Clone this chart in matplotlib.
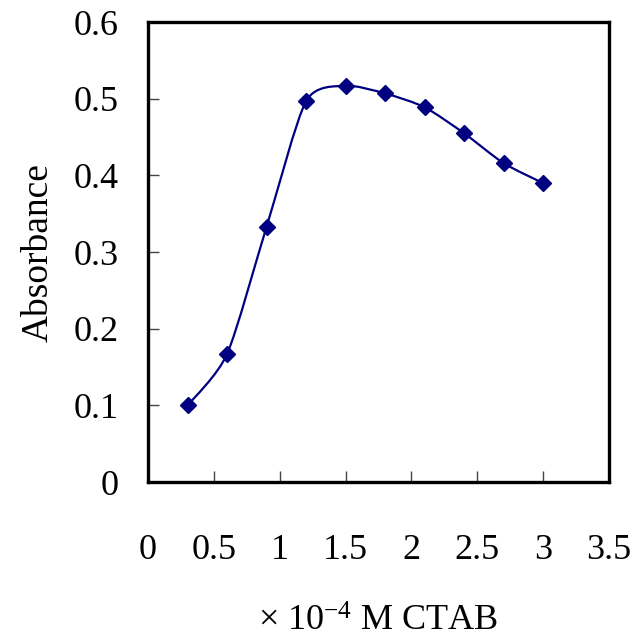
import matplotlib
matplotlib.use('Agg')
import matplotlib.pyplot as plt
from matplotlib.path import Path
from matplotlib.patches import PathPatch

# CTAB concentration (x 10^-4 M) and measured absorbance
ctab = [0.3, 0.6, 0.9, 1.2, 1.5, 1.8, 2.1, 2.4, 2.7, 3.0]
absorbance = [0.100, 0.167, 0.333, 0.497, 0.517, 0.507, 0.489, 0.455, 0.416, 0.390]

xticks = [0, 0.5, 1, 1.5, 2, 2.5, 3, 3.5]
xticklabels = ['0', '0.5', '1', '1.5', '2', '2.5', '3', '3.5']
yticks = [0, 0.1, 0.2, 0.3, 0.4, 0.5, 0.6]
yticklabels = ['0', '0.1', '0.2', '0.3', '0.4', '0.5', '0.6']

plt.rcParams['font.family'] = ['Liberation Serif', 'DejaVu Serif']
plt.rcParams['mathtext.fontset'] = 'custom'
plt.rcParams['mathtext.rm'] = 'Liberation Serif'
plt.rcParams['mathtext.it'] = 'Liberation Serif:italic'

navy = '#000080'


def smooth_path(xs, ys, k=0.12):
    """Excel-like smoothed line: cubic Bezier segments through the points."""
    verts = [(xs[0], ys[0])]
    codes = [Path.MOVETO]
    n = len(xs)
    for i in range(n - 1):
        x0, y0 = (xs[i - 1], ys[i - 1]) if i > 0 else (xs[i], ys[i])
        x1, y1 = xs[i], ys[i]
        x2, y2 = xs[i + 1], ys[i + 1]
        x3, y3 = (xs[i + 2], ys[i + 2]) if i + 2 < n else (x2, y2)
        c1 = (x1 + (x2 - x0) * k, y1 + (y2 - y0) * k)
        c2 = (x2 - (x3 - x1) * k, y2 - (y3 - y1) * k)
        verts += [c1, c2, (x2, y2)]
        codes += [Path.CURVE4] * 3
    return Path(verts, codes)


fig = plt.figure(figsize=(6.38, 6.42), dpi=100)
ax = fig.add_axes([0.232, 0.249, 0.7226, 0.7165])

ax.add_patch(PathPatch(smooth_path(ctab, absorbance), facecolor='none',
                       edgecolor=navy, lw=1.6, zorder=2))
ax.plot(ctab, absorbance, linestyle='none', marker='D', ms=8,
        color=navy, zorder=3, clip_on=False)

ax.set_xlim(0, 3.5)
ax.set_ylim(0, 0.6)
ax.set_xticks(xticks)
ax.set_xticklabels(xticklabels)
ax.set_yticks(yticks)
ax.set_yticklabels(yticklabels)

for s in ax.spines.values():
    s.set_linewidth(2.4)
    s.set_color('black')
ax.tick_params(axis='both', direction='in', length=8, width=1, color='#444444',
               labelsize=26)
ax.tick_params(axis='x', pad=37)
ax.tick_params(axis='y', pad=21)

ax.set_ylabel('Absorbance', fontsize=27, labelpad=13)
ax.set_xlabel(r'$\times\ 10^{-4}$ M CTAB', fontsize=26, labelpad=28)

fig.savefig('out.png', dpi=100)
